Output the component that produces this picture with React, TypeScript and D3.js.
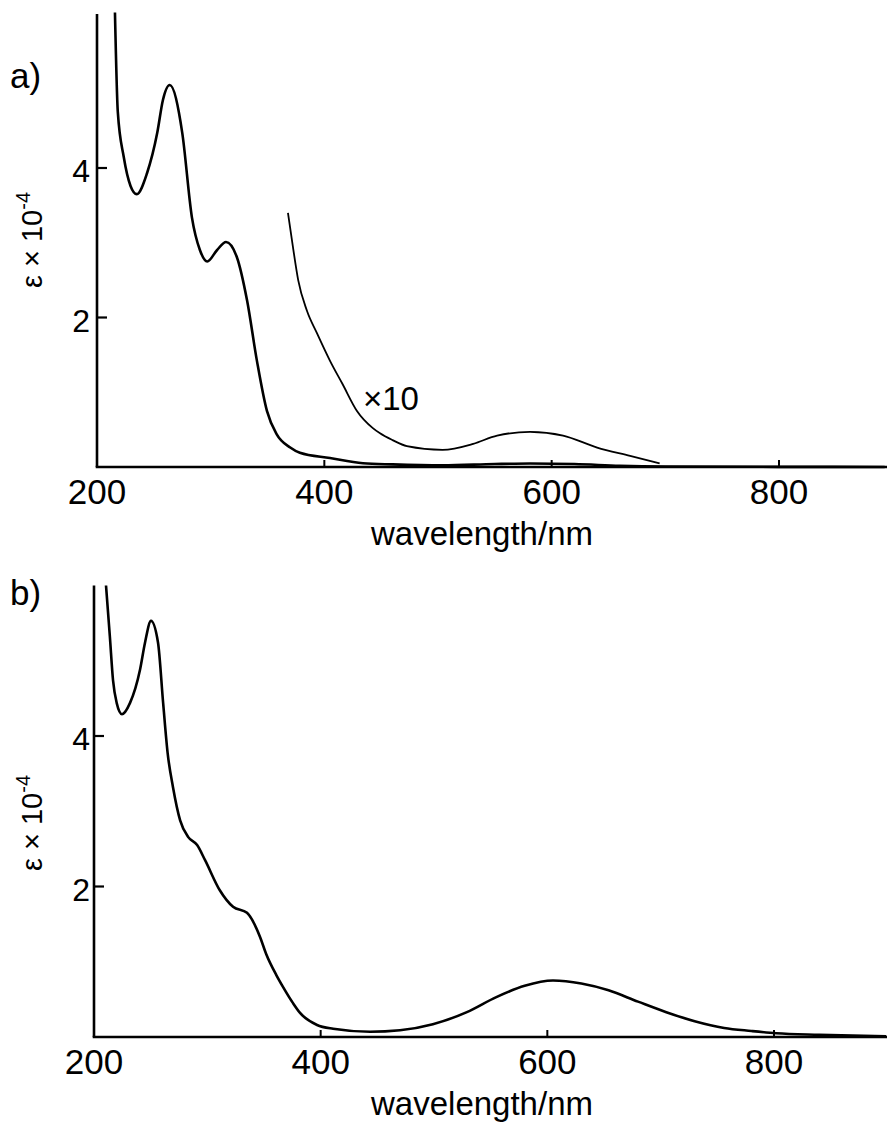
import React from "react";
import * as d3 from "d3";

// panel a) – main spectrum
const aWavelength = [215.8, 218.3, 223.5, 229.5, 235, 244, 253, 258, 264, 275, 283.5, 290.6, 297, 305.5, 313.5, 323, 332, 340.7, 349.5, 358, 370, 378.5, 405, 434, 460, 504, 550, 581, 620, 660, 700, 800, 893];
const aEpsilon = [6.08, 4.75, 4.15, 3.76, 3.65, 3.93, 4.47, 4.91, 5.11, 4.47, 3.34, 2.9, 2.75, 2.9, 3.01, 2.81, 2.23, 1.42, 0.75, 0.44, 0.26, 0.19, 0.12, 0.05, 0.035, 0.022, 0.04, 0.047, 0.04, 0.016, 0.006, 0.002, 0.001];

// panel a) – x10 magnified trace
const a10Wavelength = [368, 372.4, 377, 384.7, 393.5, 405, 416, 428.7, 442.7, 449, 460, 472.6, 504, 531, 552, 581, 610, 640, 669, 695];
const a10Epsilon = [3.4, 2.94, 2.5, 2.09, 1.79, 1.42, 1.11, 0.75, 0.52, 0.45, 0.36, 0.28, 0.23, 0.31, 0.42, 0.47, 0.42, 0.26, 0.15, 0.05];

// panel b)
const bWavelength = [210.6, 214, 216.8, 220, 224.7, 231.8, 240.6, 245, 250.3, 256.5, 261, 265, 269.7, 276, 283, 291, 298, 311, 322.7, 335, 346.5, 352, 361, 367, 375.6, 381.8, 396.8, 411, 443.6, 470, 499, 529, 555, 580, 605, 630, 654, 680, 705, 730, 756, 780, 802, 840, 899];
const bEpsilon = [6.0, 5.32, 4.74, 4.44, 4.29, 4.44, 4.88, 5.24, 5.53, 5.24, 4.44, 3.77, 3.32, 2.88, 2.66, 2.55, 2.35, 1.95, 1.73, 1.65, 1.33, 1.1, 0.82, 0.66, 0.45, 0.32, 0.16, 0.11, 0.07, 0.09, 0.17, 0.33, 0.53, 0.68, 0.75, 0.71, 0.62, 0.47, 0.33, 0.21, 0.12, 0.08, 0.05, 0.03, 0.01];

const xTicks = [200, 400, 600, 800];
const yTicks = [2, 4];

const W = 887;
const H = 1128;
const FONT = "'Liberation Sans', Arial, Helvetica, sans-serif";

type Trace = { xs: number[]; ys: number[]; width: number };

function Panel({ letter, letterY, x, y, yTop, traces, yLabelY, children }: {
  letter: string;
  letterY: number;
  x: d3.ScaleLinear<number, number>;
  y: d3.ScaleLinear<number, number>;
  yTop: number;
  traces: Trace[];
  yLabelY: number;
  children?: React.ReactNode;
}) {
  const x0 = x(200);
  const y0 = y(0);
  const line = d3.line<[number, number]>()
    .x((d) => x(d[0]))
    .y((d) => y(d[1]))
    .curve(d3.curveMonotoneX);

  return (
    <g>
      <text x={10} y={letterY} fontSize={35}>{letter}</text>

      {/* axes */}
      <line x1={x0} y1={y(yTop)} x2={x0} y2={y0} stroke="#000" strokeWidth={2.6} />
      <line x1={x0 - 1.3} y1={y0} x2={W} y2={y0} stroke="#000" strokeWidth={2.6} />

      {yTicks.map((t) => (
        <g key={"y" + t}>
          <line x1={x0} x2={x0 + 10} y1={y(t)} y2={y(t)} stroke="#000" strokeWidth={2.2} />
          <text x={90} y={y(t) + 14} fontSize={32} textAnchor="end">{t}</text>
        </g>
      ))}

      {xTicks.map((t) => (
        <g key={"x" + t}>
          {t > 200 && <line x1={x(t)} x2={x(t)} y1={y0} y2={y0 - 7} stroke="#000" strokeWidth={2} />}
          <text x={x(t)} y={y0 + 37} fontSize={35} textAnchor="middle">{t}</text>
        </g>
      ))}

      <text x={482} y={y0 + 78} fontSize={33} textAnchor="middle">wavelength/nm</text>

      <text transform={`translate(42,${yLabelY}) rotate(-90)`} fontSize={29} textAnchor="middle">
        ε × 10<tspan fontSize={20} dy={-12}>-4</tspan>
      </text>

      {traces.map((tr, i) => (
        <path
          key={i}
          d={line(tr.xs.map((v, j) => [v, tr.ys[j]] as [number, number])) || ""}
          fill="none"
          stroke="#000"
          strokeWidth={tr.width}
          strokeLinejoin="round"
        />
      ))}
      {children}
    </g>
  );
}

export default function App() {
  const xA = d3.scaleLinear().domain([200, 800]).range([97, 779]);
  const yA = d3.scaleLinear().domain([0, 4]).range([467, 168]);
  const xB = d3.scaleLinear().domain([200, 800]).range([94, 774]);
  const yB = d3.scaleLinear().domain([0, 4]).range([1037, 736]);

  return (
    <svg
      width={W}
      height={H}
      style={{ position: "absolute", left: 0, top: 0, background: "#fff" }}
      fontFamily={FONT}
      fill="#000"
    >
      <rect width={W} height={H} fill="#fff" />
      <Panel
        letter="a)"
        letterY={88}
        x={xA}
        y={yA}
        yTop={6.06}
        yLabelY={240}
        traces={[
          { xs: aWavelength, ys: aEpsilon, width: 2.6 },
          { xs: a10Wavelength, ys: a10Epsilon, width: 1.8 },
        ]}
      >
        <text x={363} y={410} fontSize={33}>×10</text>
      </Panel>
      <Panel
        letter="b)"
        letterY={605}
        x={xB}
        y={yB}
        yTop={6.0}
        yLabelY={823}
        traces={[{ xs: bWavelength, ys: bEpsilon, width: 2.6 }]}
      />
    </svg>
  );
}
